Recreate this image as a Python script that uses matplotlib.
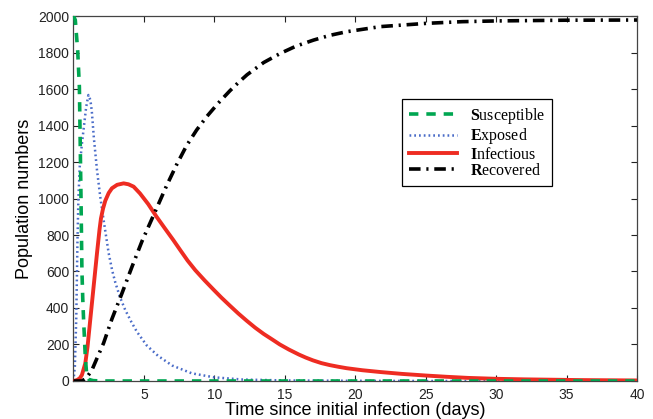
import numpy as np
import matplotlib
matplotlib.use("Agg")
import matplotlib.pyplot as plt

# values (time in days, population counts)
t_susceptible = [0, 0.13, 0.3, 0.42, 0.48, 0.53, 0.6, 0.66, 0.72, 0.84, 0.95, 1.1, 1.4, 2.0, 40]
susceptible = [2000, 1978, 1810, 1611, 1300, 1030, 608, 450, 334, 133, 24, 8, 2, 0, 0]

t_exposed = [0, 0.1, 0.2, 0.28, 0.35, 0.45, 0.6, 0.75, 0.9, 1.06, 1.2, 1.3, 1.45, 1.67, 1.9, 2.14,
             2.5, 2.75, 2.97, 3.3, 3.67, 4.1, 4.5, 5.2, 6.0, 7.0, 8.4, 10, 12, 15, 20, 25, 40]
exposed = [0, 80, 350, 750, 1000, 1180, 1300, 1400, 1500, 1567, 1540, 1480, 1330, 1156, 1010, 882,
           700, 605, 540, 460, 390, 325, 270, 195, 138, 85, 42, 20, 8, 3, 1, 0, 0]

t_infectious = [0, 0.25, 0.45, 0.6, 0.84, 1.0, 1.19, 1.43, 1.67, 1.85, 1.95, 2.1, 2.26, 2.5, 2.73, 3.1,
                3.56, 3.9, 4.27, 4.72, 5.3, 5.9, 6.5, 7.08, 7.6, 8.1, 8.65, 9.3, 9.95, 10.5, 11.1, 11.7,
                12.3, 12.9, 13.5, 14.1, 14.65, 15.3, 16, 16.5, 17, 17.6, 18.2, 18.8, 19.4, 20.5, 21.8,
                23.3, 25, 26.5, 28, 30, 32, 36, 40]
infectious = [0, 5, 15, 33, 97, 188, 334, 517, 700, 830, 890, 945, 988, 1030, 1056, 1075,
              1083, 1078, 1065, 1028, 970, 900, 835, 773, 715, 660, 607, 552, 500, 457, 413, 370,
              330, 292, 258, 228, 200, 172, 145, 128, 113, 98, 87, 78, 70, 59, 49,
              39, 30, 23, 17, 12, 9, 5, 3]

t_recovered = [0, 0.6, 0.9, 1.31, 1.7, 2.14, 2.73, 3.44, 4.15, 4.86, 5.78, 6.61, 7.32, 8.03, 8.74, 9.45,
               10.27, 11.1, 11.7, 12.32, 13.5, 14.68, 15.8, 17.04, 18.2, 19.4, 21.8, 25.1, 27.6, 30, 35, 40]
recovered = [0, 0, 15, 60, 130, 208, 340, 480, 625, 765, 925, 1070, 1185, 1290, 1375, 1448,
             1522, 1590, 1635, 1678, 1745, 1795, 1835, 1868, 1894, 1914, 1942, 1960, 1969, 1973, 1977, 1978]

labels = [r"$\mathbf{S}$usceptible", r"$\mathbf{E}$xposed", r"$\mathbf{I}$nfectious", r"$\mathbf{R}$ecovered"]
x_ticks = [5, 10, 15, 20, 25, 30, 35, 40]
y_ticks = list(range(0, 2001, 200))

plt.rcParams["font.family"] = ["Liberation Sans", "DejaVu Sans"]
plt.rcParams["mathtext.fontset"] = "custom"
plt.rcParams["mathtext.rm"] = "Liberation Serif"
plt.rcParams["mathtext.bf"] = "Liberation Serif:bold"

fig = plt.figure(figsize=(6.53, 4.19), dpi=100)
ax = fig.add_axes([0.1125, 0.0907, 0.863, 0.8711])

ax.plot(t_exposed, exposed, color="#4a6cc8", lw=1.8, linestyle=(0, (0.7, 1.2)), zorder=2, label=labels[1])
ax.plot(t_infectious, infectious, color="#ee2c22", lw=2.8, zorder=3, label=labels[2])
ax.plot(t_recovered, recovered, color="black", lw=2.6, linestyle=(0, (3.2, 1.6, 0.6, 1.6)), zorder=4, label=labels[3])
ax.plot(t_susceptible, susceptible, color="#00a651", lw=2.6, linestyle=(0, (2.6, 2.2)), zorder=5, label=labels[0])

ax.set_xlim(0, 40)
ax.set_ylim(0, 2000)
ax.set_xticks(x_ticks)
ax.set_yticks(y_ticks)
ax.tick_params(direction="in", length=4, width=0.8, top=True, right=True, labelsize=10,
               colors="#222222")
ax.tick_params(axis="x", pad=5)
ax.tick_params(axis="y", pad=3)
for sp in ax.spines.values():
    sp.set_color("#444444")
    sp.set_linewidth(0.9)

ax.set_xlabel("Time since initial infection (days)", fontsize=13, labelpad=0)
ax.set_ylabel("Population numbers", fontsize=13, labelpad=4)

handles, labs = ax.get_legend_handles_labels()
order = [3, 0, 1, 2]
leg = ax.legend([handles[i] for i in order], [labs[i] for i in order],
                loc="upper left", bbox_to_anchor=(0.583, 0.773),
                prop={"family": "Liberation Serif", "size": 11.5},
                frameon=True, fancybox=False, edgecolor="black", framealpha=1,
                handlelength=3.0, handletextpad=0.8, labelspacing=0.02, borderpad=0.45,
                borderaxespad=0)
leg.get_frame().set_linewidth(0.9)

fig.savefig("out.png", dpi=100)
plt.close(fig)
